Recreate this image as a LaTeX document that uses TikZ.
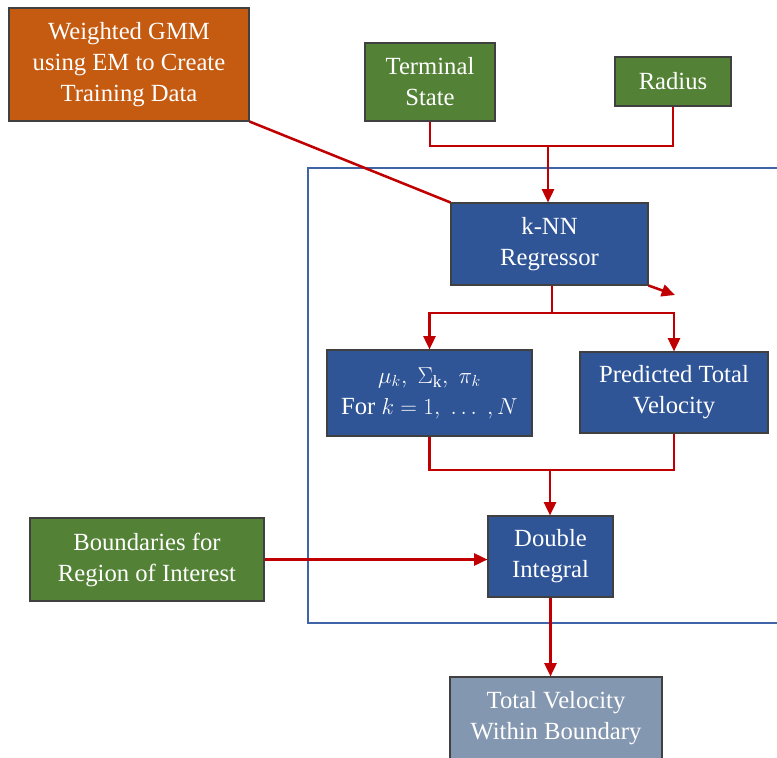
\documentclass[tikz,border=0pt]{standalone}
\usepackage{fontspec}
\setmainfont{Liberation Serif}
\usetikzlibrary{arrows.meta}
\definecolor{orangeb}{HTML}{C55A11}
\definecolor{greenb}{HTML}{538135}
\definecolor{blueb}{HTML}{2F5597}
\definecolor{greyb}{HTML}{8497B0}
\definecolor{redl}{HTML}{C00000}
\definecolor{frame}{HTML}{3F64A8}
\tikzset{
  box/.style={draw=black!75, line width=0.8pt, text=white, align=center, inner sep=0pt,
    font=\fontsize{18.5}{23.3}\selectfont},
  arr/.style={draw=redl, line width=1.9pt, -{Triangle[length=10pt,width=9pt]}},
  ln/.style={draw=redl, line width=1.9pt},
}
\newcommand{\bx}[7]{\node[box, fill=#6, minimum width={(#4-#2)*0.75pt}, minimum height={(#5-#3)*0.75pt}] (#1) at ({(#2+#4)/2},{(#3+#5)/2}) {#7};}
\begin{document}
\begin{tikzpicture}[x=0.75pt,y=-0.75pt]
\useasboundingbox (0,0) rectangle (777,757);
% container
\draw[frame, line width=1.6pt] (779,168) -| (308,623) -- (779,623);
% boxes
\bx{gmm}{9}{8}{249}{121}{orangeb}{Weighted GMM\\using EM to Create\\Training Data}
\bx{term}{365}{43}{495}{121}{greenb}{Terminal\\State}
\bx{rad}{615}{57}{731}{106}{greenb}{Radius}
\bx{knn}{451}{203}{648}{285}{blueb}{k-NN\\Regressor}
\bx{mu}{327}{350}{532}{436}{blueb}{$\mu_k,\;\Sigma_{\mathrm{k}},\;\pi_k$\\For $k=1,\;\ldots\;,N$}
\bx{pred}{580}{352}{768}{433}{blueb}{Predicted Total\\Velocity}
\bx{dbl}{488}{516}{613}{597}{blueb}{Double\\Integral}
\bx{bnd}{30}{518}{264}{601}{greenb}{Boundaries for\\Region of Interest}
\bx{tot}{450}{677}{662}{760}{greyb}{Total Velocity\\Within Boundary}
% junctions
\coordinate (j1) at (548,146);
\coordinate (j2) at (552,313);
\coordinate (j3) at (550,470);
\coordinate (odd) at (675,295);
% connectors
\draw[ln] (term.south) |- (j1) -| (rad.south);
\draw[arr] (j1) -- (j1 |- knn.north);
\draw[ln] (gmm.south east) -- (knn.north west);
\draw[arr] (knn.south east) -- (odd);
\draw[ln] (j2 |- knn.south) -- (j2);
\draw[arr] (j2) -| (mu.north);
\draw[arr] (j2) -| (pred.north);
\draw[ln] (mu.south) |- (j3) -| (pred.south);
\draw[arr] (j3) -- (j3 |- dbl.north);
\draw[arr] (bnd.east) -- (bnd.east -| dbl.west);
\draw[arr] (dbl.south) -- (dbl.south |- tot.north);
\end{tikzpicture}
\end{document}
